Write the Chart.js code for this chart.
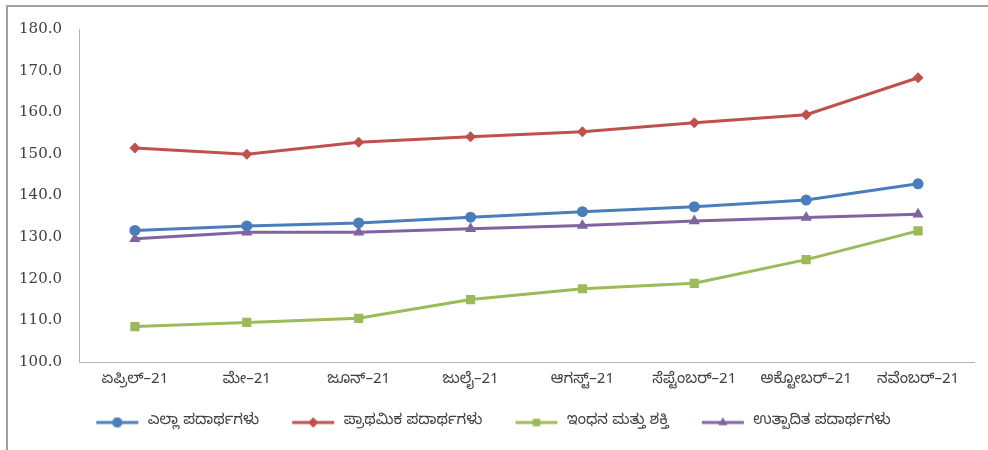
<!DOCTYPE html>
<html>
<head>
<meta charset="utf-8">
<script src="https://cdn.jsdelivr.net/npm/chart.js@4.4.1/dist/chart.umd.min.js"></script>
<style>
  html, body { margin: 0; padding: 0; background: #fff; overflow: hidden; }
  #frame {
    position: absolute; left: 6px; top: 5px; width: 1000px; height: 470px;
    border-top: 2px solid #a0a0a0; border-left: 2px solid #a0a0a0;
  }
  #wrap { position: absolute; left: 0; top: 0; width: 988px; height: 450px; }
</style>
</head>
<body>
<div id="frame"></div>
<div id="wrap"><canvas id="chart" width="988" height="450"></canvas></div>
<script>
const months = ["ಏಪ್ರಿಲ್–21", "ಮೇ–21", "ಜೂನ್–21", "ಜುಲೈ–21", "ಆಗಸ್ಟ್–21", "ಸೆಪ್ಟೆಂಬರ್–21", "ಅಕ್ಟೋಬರ್–21", "ನವೆಂಬರ್–21"];

const allGoods = [131.6, 132.7, 133.4, 134.8, 136.1, 137.3, 138.9, 142.8];
const primaryGoods = [151.4, 149.9, 152.8, 154.1, 155.3, 157.5, 159.4, 168.3];
const fuelPower = [108.5, 109.5, 110.5, 115.0, 117.6, 118.9, 124.6, 131.5];
const manufactured = [129.6, 131.2, 131.2, 132.0, 132.8, 133.9, 134.7, 135.5];

const seriesNames = ["ಎಲ್ಲಾ ಪದಾರ್ಥಗಳು", "ಪ್ರಾಥಮಿಕ ಪದಾರ್ಥಗಳು", "ಇಂಧನ ಮತ್ತು ಶಕ್ತಿ", "ಉತ್ಪಾದಿತ ಪದಾರ್ಥಗಳು"];

const kannadaFont = "'Noto Sans Kannada', 'Noto Sans', 'DejaVu Sans', sans-serif";

// legend icon: blank gap on the left, then a short line with the marker in the middle
function legendIcon(color, shape) {
  const c = document.createElement("canvas");
  c.width = 57;
  c.height = 14;
  const ctx = c.getContext("2d");
  ctx.strokeStyle = color;
  ctx.fillStyle = color;
  ctx.lineWidth = 3;
  ctx.beginPath();
  ctx.moveTo(13, 7);
  ctx.lineTo(55, 7);
  ctx.stroke();
  Chart.helpers.drawPoint(ctx, { pointStyle: shape, radius: 5, borderWidth: 0 }, 34, 7);
  ctx.fill();
  return c;
}

function makeSet(label, data, color, shape, radius) {
  return {
    label,
    data,
    borderColor: color,
    backgroundColor: color,
    borderWidth: 3,
    pointStyle: shape,
    pointRadius: radius,
    pointHoverRadius: radius,
    pointBorderWidth: 0,
    tension: 0,
    legendIcon: legendIcon(color, shape)
  };
}

const datasets = [
  makeSet(seriesNames[0], allGoods, "#4a7ebb", "circle", 5.5),
  makeSet(seriesNames[1], primaryGoods, "#c0504d", "rectRot", 5.5),
  makeSet(seriesNames[2], fuelPower, "#9bbb59", "rect", 6.5),
  makeSet(seriesNames[3], manufactured, "#8064a2", "triangle", 6.5)
];

new Chart(document.getElementById("chart"), {
  type: "line",
  data: { labels: months, datasets },
  options: {
    responsive: false,
    animation: false,
    events: [],
    layout: { padding: { top: 29, right: 14, bottom: 10, left: 0 } },
    plugins: {
      tooltip: { enabled: false },
      legend: {
        position: "bottom",
        labels: {
          usePointStyle: true,
          pointStyleWidth: 57,
          padding: 20,
          color: "#404040",
          font: { family: kannadaFont, size: 15 },
          generateLabels: (chart) =>
            chart.data.datasets.map((ds, i) => ({
              text: ds.label,
              pointStyle: ds.legendIcon,
              fillStyle: ds.borderColor,
              strokeStyle: ds.borderColor,
              lineWidth: 0,
              fontColor: "#404040",
              datasetIndex: i
            }))
        }
      }
    },
    scales: {
      x: {
        offset: true,
        grid: { display: false, drawTicks: false },
        border: { display: true, color: "#b3b3b3", width: 1 },
        ticks: {
          padding: 10,
          maxRotation: 0,
          autoSkip: false,
          color: "#404040",
          font: { family: kannadaFont, size: 15 }
        },
        afterFit: (scale) => { scale.height = 33; }
      },
      y: {
        min: 100,
        max: 180,
        grid: { display: false, drawTicks: false },
        border: { display: true, color: "#b3b3b3", width: 1 },
        ticks: {
          stepSize: 10,
          padding: 17,
          color: "#404040",
          font: { family: "'DejaVu Serif', serif", size: 15 },
          callback: (value) => Number(value).toFixed(1)
        },
        afterFit: (scale) => { scale.width = 79; }
      }
    }
  }
});
</script>
</body>
</html>
